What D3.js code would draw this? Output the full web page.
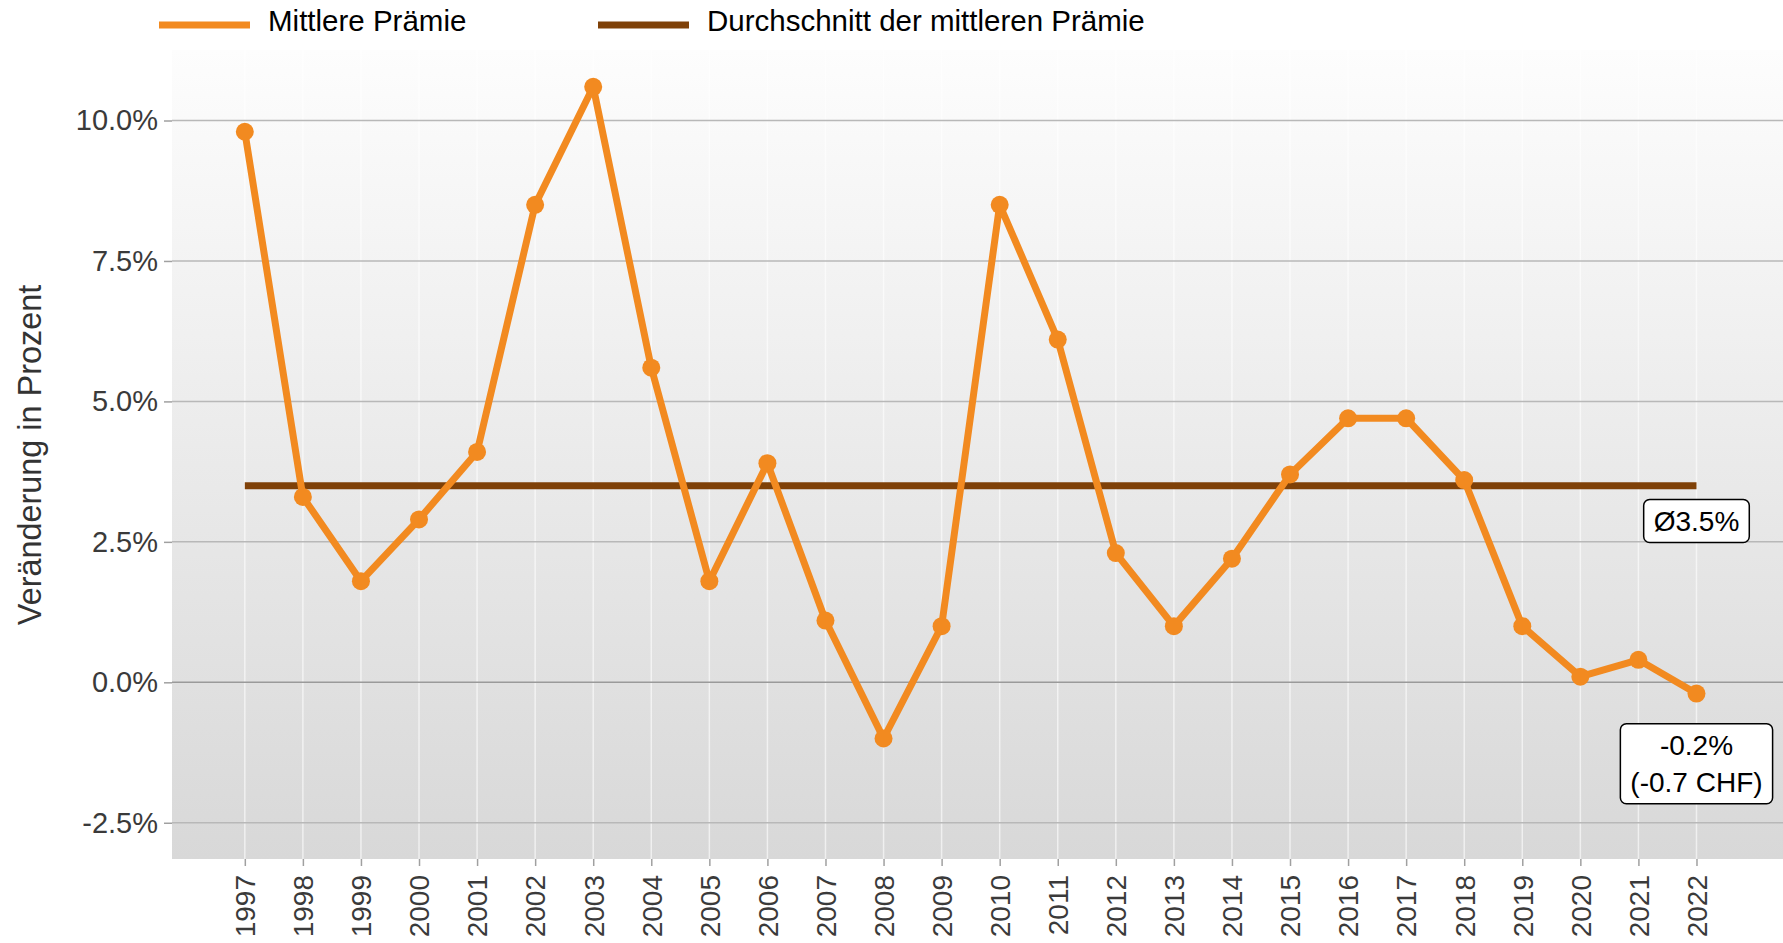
<!DOCTYPE html>
<html>
<head>
<meta charset="utf-8">
<script src="https://cdn.jsdelivr.net/npm/d3@7"></script>
<style>
  body { margin: 0; background: #fff; }
  svg text { font-family: "Liberation Sans", Arial, sans-serif; }
</style>
</head>
<body>
<div class="chart"></div>
<script>
// data
var years = [1997, 1998, 1999, 2000, 2001, 2002, 2003, 2004, 2005, 2006, 2007, 2008, 2009,
             2010, 2011, 2012, 2013, 2014, 2015, 2016, 2017, 2018, 2019, 2020, 2021, 2022];
var praemie = [9.8, 3.3, 1.8, 2.9, 4.1, 8.5, 10.6, 5.6, 1.8, 3.9, 1.1, -1.0, 1.0,
               8.5, 6.1, 2.3, 1.0, 2.2, 3.7, 4.7, 4.7, 3.6, 1.0, 0.1, 0.4, -0.2];
var mittel = 3.5;
var yTicks = [-2.5, 0, 2.5, 5, 7.5, 10];
var legendLabels = ["Mittlere Prämie", "Durchschnitt der mittleren Prämie"];
var labelYears = [2022, 2022];
var labelValues = [2.87, -1.45];
var labelLines = [["Ø3.5%"], ["-0.2%", "(-0.7 CHF)"]];

var orange = "#f28a20", brown = "#7f4108";

document.addEventListener("DOMContentLoaded", function() {
    var width = 1783, height = 943;
    var left = 172, right = 1783, top = 50, bottom = 859;

    var svg = d3.select(".chart").append("svg")
	.attr("width", width)
	.attr("height", height);

    var x = d3.scaleLinear().domain([1995.746, 2023.49]).range([left, right]);
    var y = d3.scaleLinear().domain([-3.145, 11.255]).range([bottom, top]);

    // panel background, light on top and darker below
    var grad = svg.append("defs").append("linearGradient")
	.attr("id", "bg").attr("x1", 0).attr("y1", 0).attr("x2", 0).attr("y2", 1);
    grad.append("stop").attr("offset", "0%").attr("stop-color", "#fdfdfd");
    grad.append("stop").attr("offset", "100%").attr("stop-color", "#d8d8d8");
    svg.append("rect")
	.attr("x", left).attr("y", top)
	.attr("width", right - left).attr("height", bottom - top)
	.attr("fill", "url(#bg)");

    // vertical grid
    svg.append("g").selectAll("line").data(years).join("line")
	.attr("x1", d => x(d)).attr("x2", d => x(d))
	.attr("y1", top).attr("y2", bottom)
	.attr("stroke", "#ffffff").attr("stroke-opacity", 0.6).attr("stroke-width", 1.5);

    // horizontal grid
    svg.append("g").selectAll("line").data(yTicks).join("line")
	.attr("x1", left).attr("x2", right)
	.attr("y1", d => y(d)).attr("y2", d => y(d))
	.attr("stroke", d => d == 0 ? "#9a9a9a" : "#b8b8b8").attr("stroke-width", 1.5);

    // axes
    var yAxis = svg.append("g")
	.attr("transform", "translate(" + left + ",0)")
	.call(d3.axisLeft(y).tickValues(yTicks).tickSize(8).tickPadding(6)
	      .tickFormat(d => d.toFixed(1) + "%"));
    yAxis.select(".domain").remove();
    yAxis.selectAll(".tick line").attr("stroke", "#a0a0a0").attr("stroke-width", 1.5);
    yAxis.selectAll(".tick text").attr("font-size", 29).attr("fill", "#3a3a3a")
	.attr("font-family", "Liberation Sans, Arial, sans-serif");

    var xAxis = svg.append("g")
	.attr("transform", "translate(0," + bottom + ")")
	.call(d3.axisBottom(x).tickValues(years).tickFormat(d3.format("d")).tickSize(7));
    xAxis.select(".domain").remove();
    xAxis.selectAll(".tick line").attr("stroke", "#a0a0a0").attr("stroke-width", 1.5);
    xAxis.selectAll(".tick text")
	.attr("font-size", 28).attr("fill", "#3a3a3a")
	.attr("font-family", "Liberation Sans, Arial, sans-serif")
	.attr("transform", "rotate(-90)")
	.attr("text-anchor", "end")
	.attr("x", -16).attr("y", 0).attr("dy", "0.35em");

    // axis title
    svg.append("text")
	.attr("transform", "translate(41," + ((284 + 626) / 2) + ") rotate(-90)")
	.attr("text-anchor", "middle")
	.attr("font-size", 32.4).attr("fill", "#333")
	.text("Veränderung in Prozent");

    // average line
    svg.append("line")
	.attr("x1", x(years[0])).attr("x2", x(years[years.length - 1]))
	.attr("y1", y(mittel)).attr("y2", y(mittel))
	.attr("stroke", brown).attr("stroke-width", 7);

    // premium line and points
    var line = d3.line().x((d, i) => x(years[i])).y(d => y(d));
    svg.append("path")
	.attr("d", line(praemie))
	.attr("fill", "none").attr("stroke", orange)
	.attr("stroke-width", 7).attr("stroke-linejoin", "round");
    svg.append("g").selectAll("circle").data(praemie).join("circle")
	.attr("cx", (d, i) => x(years[i])).attr("cy", d => y(d))
	.attr("r", 9).attr("fill", orange);

    // labels with box
    labelLines.forEach(function(lines, k) {
	var g = svg.append("g");
	var cx = x(labelYears[k]), cy = y(labelValues[k]);
	var lh = 37;
	var t = g.append("text").attr("text-anchor", "middle").attr("font-size", 28).attr("fill", "#000");
	lines.forEach(function(s, j) {
	    t.append("tspan").attr("x", cx)
		.attr("y", cy + (j - (lines.length - 1) / 2) * lh)
		.attr("dy", "0.35em").text(s);
	});
	var bb = t.node().getBBox();
	g.insert("rect", "text")
	    .attr("x", bb.x - 10).attr("y", cy - (lines.length * lh) / 2 - 3)
	    .attr("width", bb.width + 20).attr("height", lines.length * lh + 6)
	    .attr("rx", 6).attr("fill", "#fff").attr("stroke", "#000").attr("stroke-width", 1.5);
    });

    // legend
    var legendX = [159, 598], legendColors = [orange, brown];
    legendLabels.forEach(function(s, k) {
	svg.append("line")
	    .attr("x1", legendX[k]).attr("x2", legendX[k] + 91)
	    .attr("y1", 25).attr("y2", 25)
	    .attr("stroke", legendColors[k]).attr("stroke-width", 7);
	svg.append("text")
	    .attr("x", legendX[k] + 109).attr("y", 31)
	    .attr("font-size", 29.5).attr("fill", "#000")
	    .text(s);
    });
});
</script>
</body>
</html>
